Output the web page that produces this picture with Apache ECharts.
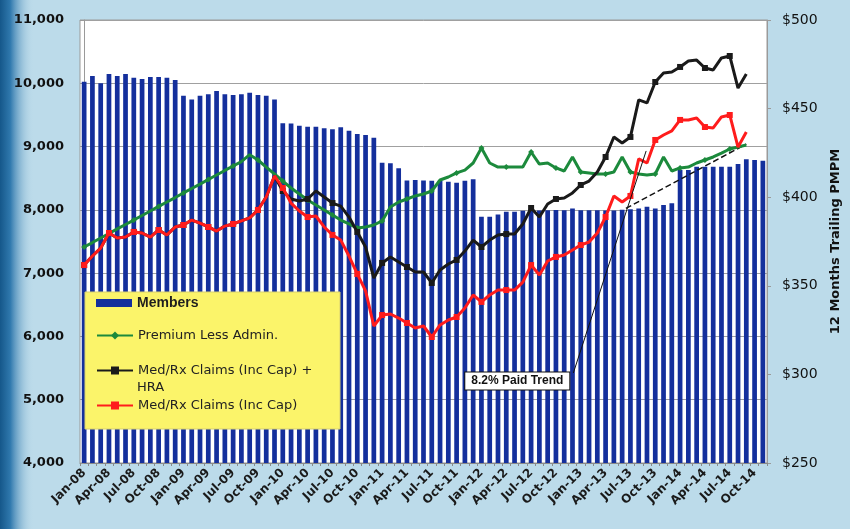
<!DOCTYPE html>
<html>
<head>
<meta charset="utf-8">
<script src="https://cdn.jsdelivr.net/npm/echarts@6/dist/echarts.min.js"></script>
<style>
  html, body { margin: 0; padding: 0; background: #bcdbea; }
  #chart { width: 850px; height: 529px; }
</style>
</head>
<body>
<div id="chart"></div>
<script>
// Monthly categories, Jan-08 .. Nov-14
const months = (function () {
  const m = ['Jan', 'Feb', 'Mar', 'Apr', 'May', 'Jun', 'Jul', 'Aug', 'Sep', 'Oct', 'Nov', 'Dec'];
  const out = [];
  for (let y = 8; y <= 14; y++) {
    for (let k = 0; k < 12; k++) {
      if (y === 14 && k > 10) break;
      out.push(m[k] + '-' + (y < 10 ? '0' + y : y));
    }
  }
  return out;
})();

// Enrolled members per month (left axis)
const members = [
  10025, 10115, 10000, 10146, 10115, 10146, 10087, 10068, 10100, 10100, 10087, 10052,
  9803, 9745, 9803, 9825, 9877, 9825, 9815, 9825, 9851, 9815, 9803, 9745,
  9370, 9365, 9330, 9314, 9314, 9290, 9272, 9304, 9251, 9198, 9183, 9140,
  8745, 8735, 8656, 8465, 8470, 8465, 8458, 8460, 8445, 8430, 8460, 8482,
  7891, 7891, 7928, 7970, 7970, 7986, 7990, 7990, 7995, 7997, 7995, 8023,
  7995, 7995, 7995, 7990, 7990, 8000, 8010, 8023, 8050, 8023, 8076, 8103,
  8630, 8630, 8682, 8682, 8682, 8682, 8682, 8724, 8798, 8787, 8776
];

// 12-month trailing PMPM, Jan-08 .. Sep-14 (right axis)
const premiumLessAdmin = [
  371.9, 374.4, 377.0, 379.5, 382.1, 384.6, 387.1, 389.7, 392.2, 394.8, 397.3, 399.8,
  402.4, 404.9, 407.4, 410.0, 412.5, 415.1, 417.6, 420.1, 424.0, 421.0, 417.0, 413.1,
  409.1, 405.2, 401.8, 398.4, 395.6, 392.8, 390.0, 387.1, 384.9, 382.6, 383.2, 384.3,
  386.6, 394.5, 397.3, 399.0, 400.7, 401.8, 403.5, 409.7, 411.4, 413.7, 415.3, 419.3,
  427.8, 419.3, 417.0, 417.0, 417.0, 417.0, 425.5, 418.7, 419.3, 416.5, 414.8, 422.7,
  414.2, 413.7, 413.1, 413.1, 414.2, 422.7, 414.2, 413.1, 412.5, 413.1, 422.7, 414.8,
  416.5, 417.0, 419.3, 421.0, 422.7, 424.9, 427.2, 428.3, 429.5
];

const claimsWithHra = [
  361.7, 366.8, 371.3, 379.8, 377.0, 377.5, 380.4, 379.8, 377.5, 381.5, 378.7, 383.2,
  384.3, 387.1, 385.4, 383.2, 380.9, 383.7, 384.9, 386.6, 388.3, 392.8, 400.1, 412.0,
  403.5, 399.0, 397.9, 399.0, 403.5, 400.1, 396.7, 395.0, 388.8, 380.4, 371.9, 354.4,
  362.9, 366.3, 363.4, 360.6, 357.8, 357.8, 351.6, 358.9, 362.3, 364.6, 369.6, 375.8,
  371.9, 375.8, 378.7, 379.2, 379.2, 384.9, 393.9, 388.8, 396.2, 399.0, 399.5, 402.4,
  406.9, 409.1, 414.2, 422.7, 434.0, 430.6, 434.0, 454.9, 453.2, 465.0, 470.1, 470.7,
  473.5, 476.9, 477.4, 472.9, 471.8, 478.6, 479.7, 461.6, 469.5
];

const claims = [
  361.7, 366.8, 371.3, 379.8, 377.0, 377.5, 380.4, 379.8, 377.5, 381.5, 378.7, 383.2,
  384.3, 387.1, 385.4, 383.2, 380.9, 383.7, 384.9, 386.6, 388.3, 392.8, 400.1, 412.0,
  405.2, 396.7, 392.2, 388.8, 389.4, 383.2, 378.7, 375.8, 366.8, 356.7, 347.1, 327.3,
  333.5, 334.1, 331.8, 329.0, 326.2, 327.3, 321.1, 327.9, 330.7, 332.4, 337.5, 344.8,
  340.9, 344.8, 347.6, 347.6, 347.6, 352.1, 361.7, 356.1, 364.0, 366.3, 367.4, 370.2,
  373.0, 374.7, 379.8, 388.8, 400.7, 397.3, 400.7, 421.6, 419.3, 432.3, 435.1, 437.4,
  443.6, 443.6, 444.7, 439.6, 439.1, 445.3, 446.4, 428.3, 436.8
];

// 8.2% paid trend: [month position, PMPM]
const paidTrend = [[65.45, 393.7], [80, 430.0]];
// Leader from the trend caption up to the trend line
const trendLeader = [[59.1, 300.8], [67.9, 426.1]];

const leftTicks = { min: 4000, max: 11000, step: 1000 };
const rightTicks = { min: 250, max: 500, step: 50 };

const font = 'DejaVu Sans';
const chart = echarts.init(document.getElementById('chart'));

const legendBase = {
  orient: 'vertical',
  left: 96,
  padding: 0,
  itemWidth: 36,
  itemHeight: 10,
  z: 120,
  selectedMode: false,
  textStyle: { fontFamily: font, fontSize: 13, color: '#222' }
};

chart.setOption({
  backgroundColor: '#bcdbea',
  animation: false,
  graphic: [
    {
      type: 'rect', z: -10, silent: true,
      shape: { x: 0, y: 0, width: 34, height: 529 },
      style: {
        fill: new echarts.graphic.LinearGradient(0, 0, 1, 0, [
          { offset: 0, color: '#15578a' },
          { offset: 0.3, color: '#2f78ad' },
          { offset: 1, color: 'rgba(188,219,234,0)' }
        ])
      }
    },
    {
      type: 'rect', z: 100, silent: true,
      shape: { x: 85, y: 292, width: 255, height: 137 },
      style: { fill: '#fbf46a', stroke: '#d8d070', lineWidth: 1 }
    },
    {
      type: 'text', z: 121, silent: true,
      left: 137, top: 381,
      style: { text: 'HRA', font: '13px "DejaVu Sans"', fill: '#222' }
    }
  ],
  legend: [
    Object.assign({}, legendBase, {
      top: 296, data: [{ name: 'Members', icon: 'rect' }],
      itemHeight: 8,
      textStyle: { fontFamily: 'Liberation Sans', fontWeight: 'bold', fontSize: 14, color: '#1e1e1e' }
    }),
    Object.assign({}, legendBase, { top: 329, data: ['Premium Less Admin.'] }),
    Object.assign({}, legendBase, {
      top: 364, data: ['Med/Rx Claims (Inc Cap) + HRA'],
      formatter: function () { return 'Med/Rx Claims (Inc Cap) +'; }
    }),
    Object.assign({}, legendBase, { top: 399, data: ['Med/Rx Claims (Inc Cap)'] })
  ],
  grid: {
    left: 80, right: 82, top: 20, bottom: 66,
    show: true, backgroundColor: '#ffffff', borderColor: '#9a9a9a', borderWidth: 1
  },
  xAxis: [
    {
      type: 'category',
      data: months,
      boundaryGap: true,
      axisLine: { lineStyle: { color: '#8a8a8a' } },
      axisTick: { show: true, alignWithLabel: false, interval: 0, length: 3, lineStyle: { color: '#8a8a8a' } },
      axisLabel: {
        interval: 2, rotate: 45, margin: 8,
        fontFamily: font, fontWeight: 'bold', fontSize: 12, color: '#1a1a1a'
      }
    },
    {
      type: 'value', show: false,
      min: -0.5, max: months.length - 0.5
    }
  ],
  yAxis: [
    {
      type: 'value',
      min: leftTicks.min, max: leftTicks.max, interval: leftTicks.step,
      axisLine: { show: true, lineStyle: { color: '#9a9a9a' } },
      axisTick: { show: true, length: 4, lineStyle: { color: '#9a9a9a' } },
      axisLabel: {
        margin: 16, fontFamily: font, fontWeight: 'bold', fontSize: 13, color: '#111',
        formatter: function (v) { return v.toLocaleString('en-US'); }
      },
      splitLine: { show: true, lineStyle: { color: '#a0a0a0', width: 1 } }
    },
    {
      type: 'value',
      min: rightTicks.min, max: rightTicks.max, interval: rightTicks.step,
      position: 'right',
      name: '12 Months Trailing PMPM',
      nameLocation: 'middle',
      nameRotate: 90,
      nameGap: 62,
      nameTextStyle: { fontFamily: font, fontWeight: 'bold', fontSize: 13, color: '#111' },
      axisLine: { show: true, lineStyle: { color: '#9a9a9a' } },
      axisTick: { show: true, length: 4, lineStyle: { color: '#9a9a9a' } },
      axisLabel: {
        margin: 15, fontFamily: font, fontSize: 14, color: '#111',
        formatter: function (v) { return '$' + v; }
      },
      splitLine: { show: false }
    }
  ],
  series: [
    {
      name: 'Members', type: 'bar',
      xAxisIndex: 0, yAxisIndex: 0,
      data: members,
      barWidth: '57%',
      itemStyle: { color: '#142f9c' },
      z: 2
    },
    {
      name: 'Trend', type: 'line',
      xAxisIndex: 1, yAxisIndex: 1,
      data: paidTrend,
      symbol: 'none',
      lineStyle: { color: '#111', width: 1.5, type: [6, 3] },
      z: 3
    },
    {
      name: 'Premium Less Admin.', type: 'line',
      xAxisIndex: 0, yAxisIndex: 1,
      data: premiumLessAdmin,
      symbol: 'diamond', symbolSize: 6,
      itemStyle: { color: '#1c8a3c' },
      lineStyle: { color: '#1c8a3c', width: 3 },
      z: 4
    },
    {
      name: 'Med/Rx Claims (Inc Cap) + HRA', type: 'line',
      xAxisIndex: 0, yAxisIndex: 1,
      data: claimsWithHra,
      symbol: 'rect', symbolSize: 6,
      itemStyle: { color: '#1a1a1a' },
      lineStyle: { color: '#1a1a1a', width: 3 },
      z: 5
    },
    {
      name: 'Med/Rx Claims (Inc Cap)', type: 'line',
      xAxisIndex: 0, yAxisIndex: 1,
      data: claims,
      symbol: 'rect', symbolSize: 6,
      itemStyle: { color: '#ff1c1c' },
      lineStyle: { color: '#ff1c1c', width: 3 },
      z: 6
    },
    {
      name: 'Trend caption', type: 'line',
      xAxisIndex: 1, yAxisIndex: 1,
      data: trendLeader,
      symbol: 'none',
      lineStyle: { color: '#111', width: 1 },
      z: 7,
      markPoint: {
        symbol: 'rect', symbolSize: 0,
        data: [{
          coord: trendLeader[0],
          label: {
            show: true, formatter: '8.2% Paid Trend',
            position: 'left', distance: 4, offset: [0, 8],
            backgroundColor: '#ffffff', borderColor: '#111', borderWidth: 1,
            padding: [3, 6, 2, 6],
            fontFamily: 'Liberation Sans', fontWeight: 'bold', fontSize: 12, color: '#111'
          }
        }]
      }
    }
  ]
});
</script>
</body>
</html>
